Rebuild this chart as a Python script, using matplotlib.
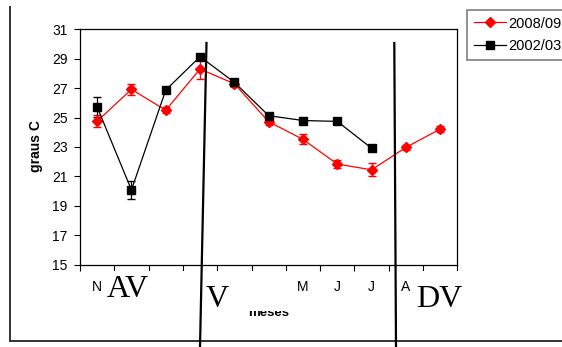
import numpy as np
import matplotlib
matplotlib.use("Agg")
import matplotlib.pyplot as plt
from matplotlib.lines import Line2D
from matplotlib.patches import Rectangle

months = ["N", "D", "J", "F", "M", "A", "M", "J", "J", "A", "S"]
# labels left visible (the rest are hidden by the AV / V / DV boxes)
shown_labels = ["N", "", "", "", "", "", "M", "J", "J", "A", ""]
temp_0809 = [24.75, 26.92, 25.5, 28.3, 27.3, 24.72, 23.52, 21.84, 21.45, 22.97, 24.22]
err_0809 = [0.4, 0.38, 0.2, 0.7, 0.25, 0.2, 0.35, 0.3, 0.45, 0.15, 0.2]
temp_0203 = [25.72, 20.08, 26.87, 29.14, 27.4, 25.13, 24.8, 24.74, 22.92]
err_0203 = [0.65, 0.6, 0.15, 0.2, 0.15, 0.2, 0.2, 0.1, 0.1]

plt.rcParams["font.family"] = ["Liberation Sans", "DejaVu Sans"]

W, H = 562, 347


def fx(px):
    return px / W


def fy(py):
    return 1 - py / H


fig = plt.figure(figsize=(W / 100, H / 100), dpi=100)
ax = fig.add_axes([fx(80), fy(264.7), fx(457.3) - fx(80), fy(29.3) - fy(264.7)])

x0 = np.arange(len(temp_0809))
x1 = np.arange(len(temp_0203))
ax.errorbar(x0, temp_0809, yerr=err_0809, color="#ff0000", marker="D",
            markersize=5, linewidth=0.9, capsize=3, elinewidth=0.9)
ax.errorbar(x1, temp_0203, yerr=err_0203, color="black", marker="s",
            markersize=5.5, linewidth=0.9, capsize=3, elinewidth=0.9)

ax.set_xlim(-0.5, len(months) - 0.5)
ax.set_ylim(15, 31)
ax.set_yticks(np.arange(15, 32, 2))
ax.set_xticks(x0)
ax.set_xticklabels(shown_labels)
ax.set_xticks(np.arange(-0.5, len(months), 1), minor=True)
ax.tick_params(axis="x", which="major", length=0, pad=11, labelsize=10)
ax.tick_params(axis="x", which="minor", length=4, width=0.8, direction="out")
ax.tick_params(axis="y", length=4, width=0.8, direction="out", pad=5,
               labelsize=10)
for s in ax.spines.values():
    s.set_linewidth(0.9)

handles = [
    Line2D([], [], color="#ff0000", marker="D", markersize=5, linewidth=0.9),
    Line2D([], [], color="black", marker="s", markersize=5.5, linewidth=0.9),
]
leg = ax.legend(handles, ["2008/09", "2002/03"], loc="upper left",
                bbox_to_anchor=(fx(467), fy(10)),
                bbox_transform=fig.transFigure, borderaxespad=0,
                fancybox=False, edgecolor="#808080", framealpha=1,
                fontsize=10.5, handlelength=2.2, handletextpad=0.15,
                labelspacing=0.6, borderpad=0.45)
leg.get_frame().set_linewidth(1.2)

fig.text(fx(36), fy(146), "graus C", rotation=90, ha="center", va="center",
         fontsize=10, fontweight="bold")
fig.text(fx(269), fy(316), "meses", ha="center", va="baseline",
         fontsize=9.5, fontweight="bold", zorder=2)

# white boxes of the overlaid labels
for left, right, top, bottom in [(104, 199, 271, 310.5), (207, 297, 271, 310.5),
                                 (413, 472, 271, 311)]:
    fig.add_artist(Rectangle((fx(left), fy(bottom)), fx(right) - fx(left),
                             fy(top) - fy(bottom), transform=fig.transFigure,
                             facecolor="white", edgecolor="none", zorder=3))

for txt, left, base in [("AV", 107, 297), ("V", 206, 307), ("DV", 416, 307)]:
    fig.text(fx(left), fy(base), txt, ha="left", va="baseline",
             fontsize=23, family="Liberation Serif", zorder=4)

# border lines and divider lines
fig.add_artist(Line2D([fx(10), fx(10)], [fy(7), fy(341)], color="#333333",
                      linewidth=1.4, zorder=5))
fig.add_artist(Line2D([fx(10), 1], [fy(341), fy(341)], color="#333333",
                      linewidth=1.4, zorder=5))
fig.add_artist(Line2D([fx(206.5), fx(200)], [fy(43), fy(347)], color="black",
                      linewidth=1.6, zorder=5))
fig.add_artist(Line2D([fx(394.3), fx(396)], [fy(43), fy(347)], color="black",
                      linewidth=1.6, zorder=5))

fig.savefig("out.png", dpi=100)
